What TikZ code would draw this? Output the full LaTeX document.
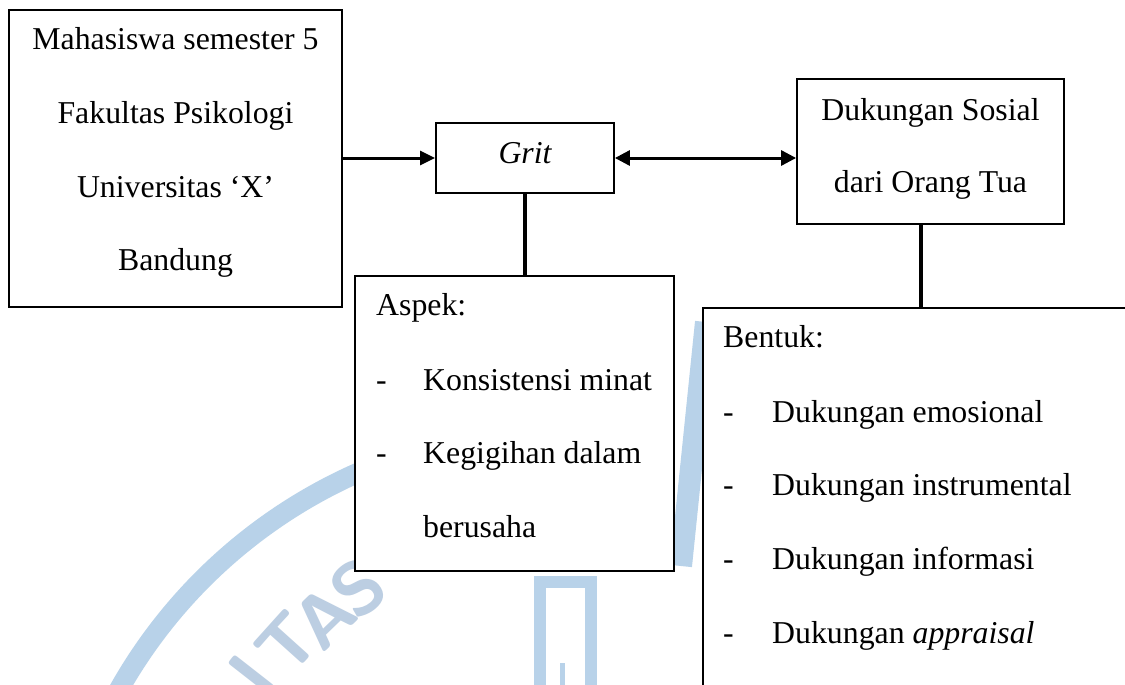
\documentclass[tikz,border=0pt]{standalone}
\usepackage{fontspec}
\setmainfont{Liberation Serif}
\usetikzlibrary{arrows.meta}
\definecolor{wm}{RGB}{184,210,233}
\definecolor{wmtext}{RGB}{188,206,226}
\begin{document}
\begin{tikzpicture}[x=1pt,y=-1pt,
  boxn/.style={draw, line width=1.8pt, fill=white, inner sep=0pt},
  txt/.style={inner sep=0pt, font=\fontsize{31.8}{38}\selectfont},
  wmletter/.style={inner sep=0pt, text=wmtext, font=\fontsize{74}{76}\sffamily\bfseries},
  conn/.style={line width=3.6pt},
  arr/.style={line width=3pt, -{Triangle[length=15pt,width=14pt]}},
  darr/.style={line width=3pt, {Triangle[length=15pt,width=15pt]}-{Triangle[length=15pt,width=15pt]}}
]
\useasboundingbox (0,0) rectangle (1125,685);
\clip (0,0) rectangle (1125,685);
\fill[white] (0,0) rectangle (1125,685);

% faint watermark
\draw[wm, line width=20pt] (565,941) ++(205:512) arc[start angle=205, end angle=258, radius=512];
\draw[wm, line width=22pt] (706,322) -- (681,566);
\draw[wm, line width=12pt] (540,582) rectangle (591,710);
\draw[wm, line width=5pt] (562,663) -- (562,690);
\node[wmletter, rotate=52] (wmI) at (252,675) {I};
\node[wmletter, rotate=48] (wmT) at (288,643) {T};
\node[wmletter, rotate=44] (wmA) at (324,617) {A};
\node[wmletter, rotate=40] (wmS) at (358,588) {S};

% boxes
\node[boxn, minimum width=333pt, minimum height=297pt] (b1) at (175.5,158.5) {};
\node[boxn, minimum width=178pt, minimum height=70pt] (grit) at (525,158) {};
\node[boxn, minimum width=267pt, minimum height=145pt] (duk) at (930.5,151.5) {};
\node[boxn, minimum width=319pt, minimum height=295pt] (aspek) at (514.5,423.5) {};
\node[boxn, minimum width=437pt, minimum height=392pt] (bentuk) at (921.5,504) {};

% connectors
\draw[arr] (b1.east |- grit.west) -- (grit.west);
\draw[darr] (grit.east) -- (grit.east -| duk.west);
\draw[conn] (grit.south) -- (grit.south |- aspek.north);
\draw[conn] ([xshift=-9.5pt]duk.south) -- ([xshift=-9.5pt]duk.south |- bentuk.north);

% texts
\node[txt, anchor=base] (t1a) at (175.5,50) {Mahasiswa semester 5};
\node[txt, anchor=base] (t1b) at (175.5,124) {Fakultas Psikologi};
\node[txt, anchor=base] (t1c) at (175.5,197) {Universitas ‘X’};
\node[txt, anchor=base] (t1d) at (175.5,270) {Bandung};

\node[txt, anchor=base] (tg) at (525,163) {\itshape Grit};

\node[txt, anchor=base] (td1) at (930.5,120) {Dukungan Sosial};
\node[txt, anchor=base] (td2) at (930.5,192.5) {dari Orang Tua};

\node[txt, anchor=base west] (ta0) at (376,315) {Aspek:};
\node[txt, anchor=base west] (ta1d) at (376,390) {-};
\node[txt, anchor=base west] (ta1) at (423,390) {Konsistensi minat};
\node[txt, anchor=base west] (ta2d) at (376,463) {-};
\node[txt, anchor=base west] (ta2) at (423,463) {Kegigihan dalam};
\node[txt, anchor=base west] (ta3) at (423,537) {berusaha};

\node[txt, anchor=base west] (tb0) at (723,347) {Bentuk:};
\node[txt, anchor=base west] (tb1d) at (723,422) {-};
\node[txt, anchor=base west] (tb1) at (772,422) {Dukungan emosional};
\node[txt, anchor=base west] (tb2d) at (723,495.5) {-};
\node[txt, anchor=base west] (tb2) at (772,495.5) {Dukungan instrumental};
\node[txt, anchor=base west] (tb3d) at (723,569.5) {-};
\node[txt, anchor=base west] (tb3) at (772,569.5) {Dukungan informasi};
\node[txt, anchor=base west] (tb4d) at (723,643) {-};
\node[txt, anchor=base west] (tb4) at (772,643) {Dukungan \textit{appraisal}};
\end{tikzpicture}
\end{document}
